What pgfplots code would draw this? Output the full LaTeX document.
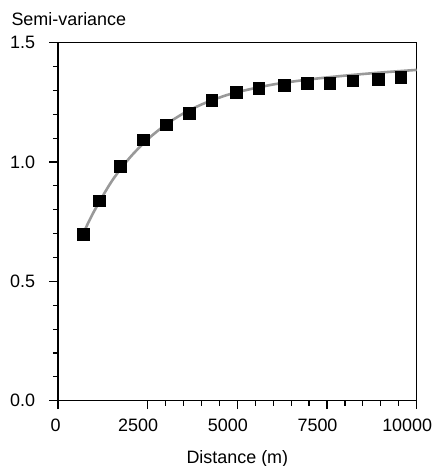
\documentclass[border=0pt]{standalone}
\usepackage{fontspec}
\setmainfont{Liberation Sans}
\usepackage{pgfplots}
\pgfplotsset{compat=1.18}
\begin{document}
\begin{tikzpicture}
  % page frame: reference margins around the plot box
  \useasboundingbox (-58bp,-65.3bp) rectangle (374.3bp,400.7bp);
  \begin{axis}[
    at={(0,0)}, anchor=south west,
    scale only axis,
    width=358.7bp, height=358bp,
    xmin=0, xmax=10000, ymin=0, ymax=1.5,
    xtick={2500,5000,7500,10000},
    extra x ticks={0},
    extra x tick style={xticklabel style={xshift=7bp}},
    ytick={0,0.5,1.0,1.5},
    scaled x ticks=false,
    minor x tick num=4,
    minor y tick num=4,
    tick align=outside,
    xtick pos=bottom, ytick pos=left,
    major tick length=8.5bp, minor tick length=5bp,
    every tick/.style={black, line width=1.2bp},
    axis line style={black, line width=1.2bp},
    tick label style={font=\fontsize{18}{21}\selectfont},
    /pgf/number format/assume math mode=true,
    xticklabel style={/pgf/number format/1000 sep={}, yshift=-6bp, xshift=-9.5bp},
    yticklabel style={/pgf/number format/fixed, /pgf/number format/fixed zerofill,
                      /pgf/number format/precision=1, xshift=-11bp},
    xlabel={Distance (m)},
    xlabel style={font=\fontsize{18}{21}\selectfont,
                  at={(rel axis cs:0.5,0)}, anchor=base, yshift=-62.6bp},
    clip=false
    ]
    % fitted model
    \addplot[gray!80, line width=2.6bp, smooth] coordinates {
      (700,0.700) (1000,0.792) (1500,0.920) (2000,1.018) (2500,1.095)
      (3000,1.156) (3500,1.204) (4000,1.241) (4500,1.270) (5000,1.293)
      (6000,1.325) (7000,1.346) (8000,1.362) (9000,1.375) (10000,1.386)
    };
    % experimental semi-variance
    \addplot[only marks, mark=square*, mark size=5.8bp,
             mark options={black, fill=black, rounded corners=1.8bp}] coordinates {
      (700,0.698) (1150,0.838) (1730,0.983) (2370,1.094) (3010,1.157)
      (3650,1.205) (4290,1.258) (4960,1.293) (5600,1.309) (6300,1.321)
      (6940,1.330) (7580,1.330) (8220,1.341) (8920,1.347) (9550,1.356)
    };
    \node[anchor=base west, font=\fontsize{18}{21}\selectfont]
      at (rel axis cs:0,1) [xshift=-50bp, yshift=16.7bp] {Semi-variance};
  \end{axis}
\end{tikzpicture}
\end{document}
